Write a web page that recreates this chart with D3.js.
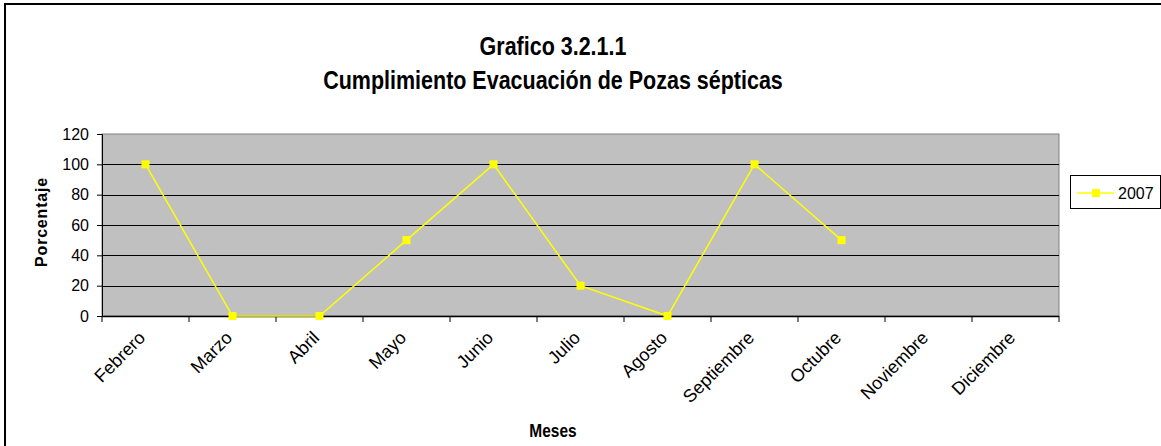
<!DOCTYPE html>
<html>
  <head>
    <script src="https://d3js.org/d3.v7.min.js"></script>
    <style>
      body { margin: 0; background: #fff; }
      text { font-family: "Liberation Sans", Arial, sans-serif; fill: #000; }
    </style>
  </head>
  <body>
    <svg width="1161" height="446"></svg>
  </body>
  <script>
    var meses = ["Febrero", "Marzo", "Abril", "Mayo", "Junio", "Julio", "Agosto",
                 "Septiembre", "Octubre", "Noviembre", "Diciembre"];
    var valores2007 = [100, 0, 0, 50, 100, 20, 0, 100, 50, null, null];
    var yTicks = [0, 20, 40, 60, 80, 100, 120];
    var serie = "2007";

    var svg = d3.select("svg");

    // chart frame
    svg.append("rect")
      .attr("x", 5).attr("y", 4)
      .attr("width", 1170).attr("height", 460)
      .attr("fill", "#fff").attr("stroke", "#000").attr("stroke-width", 2);

    var pLeft = 102, pRight = 1059, pTop = 134, pBottom = 316;

    var x = d3.scaleBand().domain(meses).range([pLeft, pRight]);
    var y = d3.scaleLinear().domain([0, 120]).range([pBottom, pTop]);

    svg.append("rect")
      .attr("x", pLeft).attr("y", pTop)
      .attr("width", pRight - pLeft).attr("height", pBottom - pTop)
      .attr("fill", "#c0c0c0").attr("stroke", "#808080").attr("stroke-width", 1);

    // gridlines
    svg.append("g").selectAll("line")
      .data(yTicks.filter(function(d) { return d > 0 && d < 120; }))
      .enter().append("line")
      .attr("x1", pLeft).attr("x2", pRight)
      .attr("y1", function(d) { return Math.round(y(d)) + 0.5; })
      .attr("y2", function(d) { return Math.round(y(d)) + 0.5; })
      .attr("stroke", "#000").attr("stroke-width", 1);

    // y axis
    var yAxis = svg.append("g")
      .attr("transform", "translate(" + pLeft + ",0)")
      .call(d3.axisLeft(y).tickValues(yTicks).tickSize(5).tickPadding(8));
    yAxis.select(".domain").attr("stroke", "#000");
    yAxis.selectAll("text").style("font-size", "16px").attr("fill", "#000")
      .style("font-family", "'Liberation Sans', Arial, sans-serif");

    // x axis: ticks between categories
    var xg = svg.append("g");
    xg.append("line")
      .attr("x1", pLeft).attr("x2", pRight)
      .attr("y1", pBottom + 0.5).attr("y2", pBottom + 0.5)
      .attr("stroke", "#000").attr("stroke-width", 1.5);
    var bounds = meses.map(function(m) { return x(m); }).concat([pRight]);
    xg.selectAll("line.tk").data(bounds).enter().append("line")
      .attr("class", "tk")
      .attr("x1", function(d) { return d; }).attr("x2", function(d) { return d; })
      .attr("y1", pBottom).attr("y2", pBottom + 6)
      .attr("stroke", "#000");
    xg.selectAll("text").data(meses).enter().append("text")
      .attr("transform", function(d) {
        return "translate(" + (x(d) + x.bandwidth() / 2 - 8) + "," + (pBottom + 14) + ") rotate(-45)";
      })
      .attr("text-anchor", "end")
      .attr("dy", "0.7em")
      .style("font-size", "18px")
      .text(function(d) { return d; });

    // line
    var line = d3.line()
      .defined(function(d) { return d != null; })
      .x(function(d, i) { return x(meses[i]) + x.bandwidth() / 2; })
      .y(function(d) { return y(d); });
    svg.append("path")
      .datum(valores2007)
      .attr("d", line)
      .attr("fill", "none").attr("stroke", "#ffff00").attr("stroke-width", 1.5);

    svg.append("g").selectAll("rect")
      .data(valores2007.map(function(v, i) { return { m: meses[i], v: v }; })
        .filter(function(d) { return d.v != null; }))
      .enter().append("rect")
      .attr("x", function(d) { return x(d.m) + x.bandwidth() / 2 - 4; })
      .attr("y", function(d) { return y(d.v) - 4; })
      .attr("width", 8).attr("height", 8)
      .attr("fill", "#ffff00");

    // titles (condensed like Arial Narrow)
    function narrowText(cx, cy, size, str) {
      svg.append("text")
        .attr("transform", "translate(" + cx + "," + cy + ") scale(0.86,1)")
        .attr("text-anchor", "middle")
        .style("font-size", size + "px").style("font-weight", "bold")
        .text(str);
    }
    narrowText(553, 55, 25, "Grafico 3.2.1.1");
    narrowText(553, 89, 25, "Cumplimiento Evacuación de Pozas sépticas");
    narrowText(553, 437, 18, "Meses");

    svg.append("text")
      .attr("transform", "translate(47,222) rotate(-90)")
      .attr("text-anchor", "middle")
      .style("font-size", "16px").style("font-weight", "bold")
      .style("letter-spacing", "0.8px")
      .text("Porcentaje");

    // legend
    var lg = svg.append("g").attr("transform", "translate(1070,175)");
    lg.append("rect")
      .attr("x", 0.5).attr("y", 0.5).attr("width", 90).attr("height", 33)
      .attr("fill", "#fff").attr("stroke", "#000").attr("stroke-width", 1);
    lg.append("line")
      .attr("x1", 7).attr("x2", 44).attr("y1", 18).attr("y2", 18)
      .attr("stroke", "#ffff00").attr("stroke-width", 1.5);
    lg.append("rect")
      .attr("x", 22).attr("y", 14).attr("width", 8).attr("height", 8)
      .attr("fill", "#ffff00");
    lg.append("text")
      .attr("x", 48).attr("y", 24)
      .style("font-size", "16px")
      .text(serie);
  </script>
</html>
